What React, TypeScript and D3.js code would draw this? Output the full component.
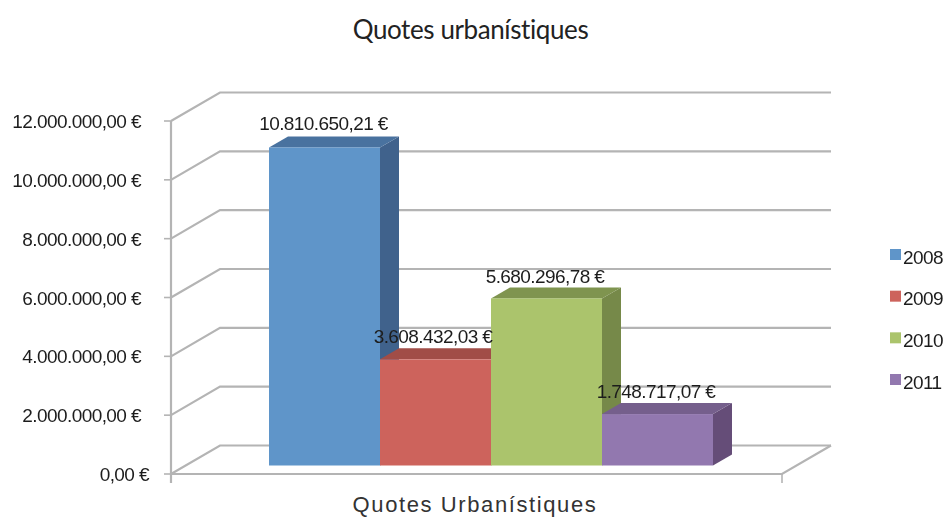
import React from "react";
import * as d3 from "d3";

const years = ["2008", "2009", "2010", "2011"];
const values = [10810650.21, 3608432.03, 5680296.78, 1748717.07];
const valueLabels = ["10.810.650,21 €", "3.608.432,03 €", "5.680.296,78 €", "1.748.717,07 €"];
const ticks = [0, 2000000, 4000000, 6000000, 8000000, 10000000, 12000000];
const tickLabels = ["0,00 €", "2.000.000,00 €", "4.000.000,00 €", "6.000.000,00 €", "8.000.000,00 €", "10.000.000,00 €", "12.000.000,00 €"];
const frontColors = ["#5f95c9", "#cd635b", "#abc46c", "#9278af"];
const topColors = ["#4a729f", "#a14d47", "#7f9450", "#755f8c"];
const sideColors = ["#40628c", "#8a423d", "#76894a", "#654e78"];

const W = 944, H = 517;
const axisX = 171, floorDx = 49, floorDy = -28.5, axisEndX = 782;
const barDx = 19, barDy = -11, barLift = 8.5;
const labelFont = "'Liberation Sans', Arial, sans-serif";
const gridColor = "#b4b4b4";

export default function App() {
  const y = d3.scaleLinear().domain([0, 12000000]).range([474, 121]);
  const x = d3.scaleBand<string>().domain(years).range([269, 713]).padding(0);
  const legendY = d3.scalePoint<string>().domain(years).range([255, 380]);
  const poly = (pts: [number, number][]) => pts.map((p) => p.join(",")).join(" ");
  const labelPos: [number, number][] = [[323.5, 130], [433, 343], [545, 283], [656, 398]];

  return (
    <svg width={W} height={H} style={{ position: "absolute", left: 0, top: 0, background: "#fff" }}>
      <defs>
        <filter id="soft" x="-5%" y="-5%" width="110%" height="110%">
          <feGaussianBlur stdDeviation="0.45" />
        </filter>
        <filter id="softText" x="-5%" y="-5%" width="110%" height="110%">
          <feGaussianBlur stdDeviation="0.3" />
        </filter>
      </defs>
      <text x={470.5} y={39} textAnchor="middle" fontFamily="Lato, sans-serif" fontSize={26} letterSpacing={-0.4} fill="#222">
        Quotes urbanístiques
      </text>

      <g filter="url(#soft)">
        {ticks.map((t) => (
          <g key={t} fill="none" stroke={gridColor}>
            <polyline
              strokeWidth={2.2}
              points={poly([[axisX, y(t)], [axisX + floorDx, y(t) + floorDy], [831, y(t) + floorDy]])}
            />
            <line x1={axisX - 7} x2={axisX} y1={y(t)} y2={y(t)} strokeWidth={1.6} />
          </g>
        ))}
        <line x1={axisX} x2={axisX} y1={y(12000000)} y2={y(0) + 9} stroke={gridColor} strokeWidth={2.2} />
        <polyline
          fill="none"
          stroke={gridColor}
          strokeWidth={2.2}
          points={poly([[axisX, y(0)], [axisEndX, y(0)], [831, y(0) + floorDy]])}
        />
        <line x1={axisEndX} x2={axisEndX} y1={y(0)} y2={y(0) + 9} stroke={gridColor} strokeWidth={1.6} />

        {years.map((yr, i) => {
          const x0 = x(yr)!;
          const x1 = x0 + x.bandwidth();
          const base = y(0) - barLift;
          const top = y(values[i]) - barLift;
          return (
            <g key={yr}>
              <polygon fill={sideColors[i]} points={poly([[x1, top], [x1 + barDx, top + barDy], [x1 + barDx, base + barDy], [x1, base]])} />
              <polygon fill={topColors[i]} points={poly([[x0, top], [x0 + barDx, top + barDy], [x1 + barDx, top + barDy], [x1, top]])} />
              <rect x={x0} y={top} width={x.bandwidth()} height={base - top} fill={frontColors[i]} />
            </g>
          );
        })}
      </g>

      <g fontFamily={labelFont} fontSize={19} fill="#1c1c1c" letterSpacing={-0.58} filter="url(#softText)">
        {ticks.map((t, i) => (
          <text key={t} x={t === 0 ? 149 : 141} y={y(t) + 7} textAnchor="end">
            {tickLabels[i]}
          </text>
        ))}
        {valueLabels.map((l, i) => (
          <text key={l} x={labelPos[i][0]} y={labelPos[i][1]} textAnchor="middle">
            {l}
          </text>
        ))}
        {years.map((yr, i) => (
          <g key={yr}>
            <rect x={890} y={legendY(yr)! - 6} width={11} height={11} fill={frontColors[i]} />
            <text x={903} y={legendY(yr)! + 8.5}>{yr}</text>
          </g>
        ))}
      </g>

      <text x={475} y={512} textAnchor="middle" fontFamily={labelFont} fontSize={22} letterSpacing={1.6} fill="#333">
        Quotes Urbanístiques
      </text>
    </svg>
  );
}
